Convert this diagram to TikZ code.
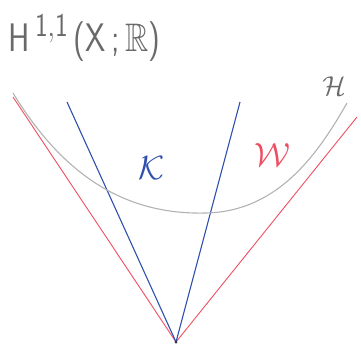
\documentclass[tikz,border=0pt]{standalone}
\usepackage{amsmath,amssymb}
\usepackage{graphicx}
\usepackage{tikz}
\usetikzlibrary{positioning}
\definecolor{conered}{RGB}{238,78,98}
\definecolor{coneblue}{RGB}{48,80,176}
\definecolor{curvegray}{RGB}{178,178,178}
\definecolor{textgray}{RGB}{105,105,105}
\newcommand{\bigsym}[2]{\scalebox{#1}{\Huge$#2$}}

\begin{document}
\begin{tikzpicture}[
  x=1pt, y=-1pt,
  redray/.style ={conered, line width=0.9pt},
  blueray/.style={coneblue, line width=1.1pt},
  hyper/.style  ={curvegray, line width=1.1pt},
  lbl/.style    ={inner sep=0pt},
]
  \useasboundingbox (0,0) rectangle (361,346);

  % apex and rim points of the two cones
  \coordinate (apex) at (176,342);
  \coordinate (wl) at (13,97);
  \coordinate (wr) at (357,117);
  \coordinate (kl) at (67,102);
  \coordinate (kr) at (240,102);
  \coordinate (hl) at (13,93);
  \coordinate (hm) at (205,213);
  \coordinate (hr) at (347,103);

  \draw[redray]  (wl) -- (apex) -- (wr);
  \draw[blueray] (kl) -- (apex) -- (kr);
  \draw[hyper]   (hl) .. controls (60,170) and (120,215) .. (hm)
                      .. controls (280,212) and (320,150) .. (hr);
  \fill[black!80] (apex) circle (1.5pt);

  \node[lbl, textgray, anchor=west, font=\Huge\sffamily] (title) at (8,38)
    {\scalebox{1.3}[1.6]{H\,$^{\mathsf{1,1}}$\,(X\,;\,$\mathbb{R}$)}};
  \node[lbl, coneblue]  (K) at (152,168) {\bigsym{1.35}{\mathcal{K}}};
  \node[lbl, conered]   (W) at (272,155) {\bigsym{1.35}{\mathcal{W}}};
  \node[lbl, textgray]  (H) at (334,86)  {\bigsym{1.1}{\mathcal{H}}};
\end{tikzpicture}
\end{document}
